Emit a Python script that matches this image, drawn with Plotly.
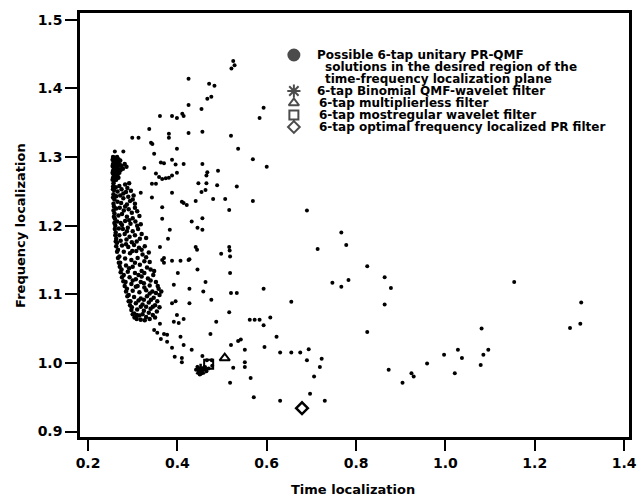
import plotly.graph_objects as go

# ---------------- data ----------------
x_ticks = [0.2, 0.4, 0.6, 0.8, 1.0, 1.2, 1.4]
y_ticks = [0.9, 1.0, 1.1, 1.2, 1.3, 1.4, 1.5]

# dense band of solutions near the left edge
cluster_pts = [
    (0.256, 1.300), (0.259, 1.299), (0.262, 1.297), (0.257, 1.295), (0.260, 1.293), (0.264, 1.294),
    (0.268, 1.292), (0.256, 1.290), (0.259, 1.288), (0.263, 1.289), (0.271, 1.289), (0.275, 1.287),
    (0.257, 1.285), (0.261, 1.283), (0.266, 1.284), (0.278, 1.283), (0.256, 1.280), (0.259, 1.278),
    (0.264, 1.279), (0.270, 1.277), (0.257, 1.275), (0.262, 1.272), (0.256, 1.270), (0.268, 1.270),
    (0.259, 1.266), (0.257, 1.262),
    (0.256, 1.257), (0.262, 1.256), (0.270, 1.258), (0.283, 1.260), (0.292, 1.262), (0.258, 1.252),
    (0.266, 1.250), (0.275, 1.253), (0.285, 1.249), (0.296, 1.251), (0.257, 1.246), (0.263, 1.243),
    (0.272, 1.244), (0.279, 1.240), (0.290, 1.242), (0.302, 1.244),
    (0.259, 1.238), (0.266, 1.235), (0.274, 1.233), (0.287, 1.231), (0.294, 1.236), (0.305, 1.232),
    (0.258, 1.228), (0.263, 1.225), (0.271, 1.226), (0.280, 1.222), (0.291, 1.224), (0.298, 1.219),
    (0.310, 1.221), (0.259, 1.218), (0.268, 1.215), (0.276, 1.217), (0.287, 1.213), (0.300, 1.211),
    (0.315, 1.214),
    (0.260, 1.210), (0.265, 1.206), (0.273, 1.204), (0.283, 1.207), (0.295, 1.203), (0.306, 1.206),
    (0.318, 1.202), (0.261, 1.200), (0.269, 1.196), (0.278, 1.195), (0.289, 1.197), (0.300, 1.192),
    (0.312, 1.195), (0.262, 1.190), (0.270, 1.186), (0.282, 1.188), (0.293, 1.184), (0.305, 1.186),
    (0.320, 1.188), (0.263, 1.181), (0.273, 1.178), (0.286, 1.180), (0.298, 1.176), (0.330, 1.182),
    (0.265, 1.175), (0.276, 1.171), (0.290, 1.169), (0.303, 1.172), (0.314, 1.168), (0.327, 1.170),
    (0.267, 1.165), (0.280, 1.162), (0.294, 1.160), (0.308, 1.163), (0.322, 1.158), (0.336, 1.161),
    (0.270, 1.155), (0.283, 1.152), (0.297, 1.150), (0.311, 1.153), (0.326, 1.148), (0.272, 1.146),
    (0.285, 1.142), (0.300, 1.140), (0.316, 1.143), (0.332, 1.139), (0.275, 1.136), (0.289, 1.133),
    (0.305, 1.131), (0.320, 1.134), (0.340, 1.136),
    (0.280, 1.128), (0.293, 1.125), (0.307, 1.122), (0.320, 1.126), (0.334, 1.123), (0.346, 1.128),
    (0.284, 1.118), (0.297, 1.115), (0.311, 1.112), (0.325, 1.116), (0.338, 1.113), (0.352, 1.118),
    (0.287, 1.108), (0.300, 1.105), (0.315, 1.103), (0.330, 1.106), (0.344, 1.104), (0.358, 1.108),
    (0.291, 1.099), (0.303, 1.096), (0.318, 1.094), (0.332, 1.097), (0.347, 1.095), (0.360, 1.099),
    (0.295, 1.090), (0.307, 1.087), (0.322, 1.085), (0.336, 1.088), (0.350, 1.084), (0.298, 1.081),
    (0.310, 1.078), (0.325, 1.076), (0.340, 1.079), (0.354, 1.075), (0.303, 1.072), (0.315, 1.069),
    (0.330, 1.067), (0.345, 1.070), (0.318, 1.063),
]

# extra solutions filling the dense band (left edge, top blob, interior)
cluster_fill_pts = [
    (0.255, 1.296), (0.255, 1.287), (0.255, 1.277), (0.255, 1.267), (0.256, 1.253), (0.256, 1.241),
    (0.257, 1.232), (0.257, 1.222), (0.258, 1.213), (0.259, 1.204), (0.260, 1.195), (0.261, 1.186),
    (0.262, 1.177), (0.263, 1.170), (0.265, 1.162), (0.267, 1.153), (0.269, 1.146), (0.271, 1.140),
    (0.273, 1.132), (0.276, 1.125), (0.279, 1.119), (0.282, 1.112), (0.285, 1.104), (0.288, 1.097),
    (0.291, 1.090), (0.294, 1.084), (0.297, 1.077), (0.300, 1.071), (0.304, 1.066), (0.309, 1.064),
    (0.265, 1.300), (0.268, 1.297), (0.272, 1.295), (0.262, 1.286), (0.267, 1.287), (0.269, 1.282),
    (0.273, 1.281), (0.266, 1.274), (0.263, 1.267), (0.282, 1.290), (0.286, 1.286),
    (0.288, 1.255), (0.279, 1.247), (0.300, 1.238), (0.283, 1.228), (0.305, 1.226), (0.292, 1.208),
    (0.276, 1.201), (0.310, 1.200), (0.287, 1.192), (0.316, 1.181), (0.309, 1.177), (0.285, 1.173),
    (0.320, 1.165), (0.299, 1.163), (0.330, 1.154), (0.305, 1.146), (0.338, 1.147), (0.292, 1.138),
    (0.326, 1.131), (0.313, 1.128), (0.348, 1.134), (0.300, 1.120), (0.340, 1.120), (0.318, 1.118),
    (0.356, 1.112), (0.326, 1.110), (0.307, 1.111), (0.338, 1.101), (0.352, 1.102), (0.364, 1.104),
    (0.325, 1.092), (0.341, 1.092), (0.355, 1.090), (0.313, 1.091), (0.330, 1.082), (0.345, 1.082),
    (0.360, 1.081), (0.318, 1.082), (0.336, 1.073), (0.350, 1.066), (0.322, 1.071), (0.309, 1.070),
    (0.327, 1.062), (0.338, 1.064),
]

# scattered solutions in the upper part of the plane
upper_pts = [
    (0.525, 1.440), (0.528, 1.434), (0.521, 1.429), (0.425, 1.414), (0.471, 1.407), (0.483, 1.404),
    (0.476, 1.388), (0.467, 1.385), (0.425, 1.376), (0.454, 1.370), (0.361, 1.360), (0.388, 1.360),
    (0.399, 1.357), (0.414, 1.360), (0.411, 1.363), (0.584, 1.357), (0.593, 1.372), (0.337, 1.341),
    (0.299, 1.328), (0.313, 1.328), (0.381, 1.334), (0.381, 1.328), (0.425, 1.335), (0.456, 1.337),
    (0.520, 1.331), (0.341, 1.321), (0.536, 1.312), (0.399, 1.312), (0.344, 1.319), (0.348, 1.305),
    (0.260, 1.308), (0.279, 1.308), (0.569, 1.297), (0.600, 1.286), (0.363, 1.292), (0.370, 1.291),
    (0.388, 1.296), (0.396, 1.289), (0.414, 1.290), (0.456, 1.290), (0.326, 1.284), (0.491, 1.280),
    (0.467, 1.278), (0.465, 1.273), (0.352, 1.276), (0.359, 1.271), (0.366, 1.268), (0.374, 1.269),
    (0.381, 1.270), (0.388, 1.273), (0.399, 1.277), (0.447, 1.262), (0.465, 1.262), (0.454, 1.249),
    (0.343, 1.261), (0.352, 1.261), (0.489, 1.259), (0.533, 1.257), (0.388, 1.248), (0.463, 1.252),
    (0.318, 1.248), (0.410, 1.235), (0.414, 1.233), (0.421, 1.230), (0.441, 1.236), (0.480, 1.239),
    (0.507, 1.239), (0.569, 1.236), (0.343, 1.241), (0.366, 1.227), (0.516, 1.223), (0.690, 1.222),
    (0.432, 1.206), (0.456, 1.211), (0.456, 1.194), (0.445, 1.197), (0.366, 1.210), (0.383, 1.194),
    (0.441, 1.169), (0.444, 1.165), (0.516, 1.169), (0.517, 1.164), (0.379, 1.181), (0.361, 1.169),
    (0.767, 1.190), (0.778, 1.172), (0.714, 1.166),
]

# scattered solutions in the middle / lower part
lower_pts = [
    (0.425, 1.150), (0.366, 1.150), (0.388, 1.149), (0.407, 1.149), (0.370, 1.153), (0.370, 1.146),
    (0.427, 1.151), (0.445, 1.136), (0.498, 1.159), (0.518, 1.155), (0.518, 1.131), (0.401, 1.131),
    (0.463, 1.118), (0.427, 1.108), (0.458, 1.104), (0.520, 1.102), (0.533, 1.102), (0.593, 1.108),
    (0.476, 1.092), (0.427, 1.087), (0.655, 1.089), (0.392, 1.114), (0.388, 1.087), (0.396, 1.090),
    (0.516, 1.074), (0.399, 1.070), (0.392, 1.060), (0.403, 1.058), (0.414, 1.064), (0.487, 1.060),
    (0.562, 1.063), (0.573, 1.063), (0.584, 1.063), (0.593, 1.055), (0.608, 1.066), (0.361, 1.057),
    (0.348, 1.048), (0.355, 1.044), (0.370, 1.042), (0.377, 1.041), (0.407, 1.038), (0.474, 1.042),
    (0.622, 1.038), (0.363, 1.035), (0.377, 1.031), (0.414, 1.026), (0.536, 1.032), (0.542, 1.034),
    (0.520, 1.026), (0.595, 1.023), (0.388, 1.022), (0.432, 1.019), (0.551, 1.019), (0.630, 1.015),
    (0.655, 1.015), (0.675, 1.015), (0.694, 1.020), (0.394, 1.009), (0.410, 1.007), (0.410, 1.001),
    (0.456, 1.010), (0.466, 1.004), (0.477, 1.004), (0.525, 0.993), (0.551, 1.001), (0.551, 0.994),
    (0.564, 0.978), (0.690, 1.004), (0.706, 0.980), (0.518, 0.971), (0.571, 0.950), (0.630, 0.945),
    (0.697, 0.955),
    (0.442, 0.990), (0.445, 0.994), (0.448, 0.987), (0.452, 0.992), (0.455, 0.985), (0.458, 0.990),
    (0.462, 0.994), (0.465, 0.988), (0.470, 0.992), (0.478, 0.996), (0.450, 0.983),
]

# scattered solutions on the right side
right_pts = [
    (0.825, 1.141), (0.747, 1.117), (0.767, 1.111), (0.783, 1.121), (0.864, 1.125), (0.878, 1.109),
    (0.864, 1.085), (0.825, 1.045), (1.154, 1.118), (0.719, 0.994), (0.723, 1.006), (0.730, 0.945),
    (0.873, 0.990), (0.904, 0.971), (0.924, 0.985), (0.929, 0.980), (0.959, 0.999), (0.997, 1.012),
    (1.021, 0.985), (1.028, 1.019), (1.037, 1.007), (1.081, 1.050), (1.079, 0.997), (1.085, 1.012),
    (1.096, 1.019), (1.279, 1.051), (1.302, 1.057), (1.304, 1.088),
]

# named filters
binomial_x, binomial_y = [0.452], [0.990]
multiplierless_x, multiplierless_y = [0.506], [1.007]
mostregular_x, mostregular_y = [0.470], [0.998]
optimal_x, optimal_y = [0.679], [0.934]

legend_texts = [
    "Possible 6-tap unitary PR-QMF",
    "solutions in the desired region of the",
    "time-frequency localization plane",
    "6-tap Binomial QMF-wavelet filter",
    "6-tap multiplierless filter",
    "6-tap mostregular wavelet filter",
    "6-tap optimal frequency localized PR filter",
]
legend_symbols = ["circle", None, None, "asterisk-open", "triangle-up-open", "square-open", "diamond-open"]

# ---------------- figure ----------------
W, H = 642, 496
L, R, T, B = 80, 5, 13, 59
PW, PH = W - L - R, H - T - B

def px(xp):
    return (xp - L) / PW

def py(yp):
    return (H - B - yp) / PH

dense = cluster_pts + cluster_fill_pts
sparse = upper_pts + lower_pts + right_pts

fig = go.Figure()
fig.add_trace(go.Scatter(x=[p[0] for p in dense], y=[p[1] for p in dense], mode="markers",
                         marker=dict(size=4.5, color="black", line=dict(width=0)),
                         showlegend=False, hoverinfo="skip"))
fig.add_trace(go.Scatter(x=[p[0] for p in sparse], y=[p[1] for p in sparse], mode="markers",
                         marker=dict(size=4, color="black", line=dict(width=0)),
                         showlegend=False, hoverinfo="skip"))
fig.add_trace(go.Scatter(x=mostregular_x, y=mostregular_y, mode="markers",
                         marker=dict(symbol="square-open", size=9, color="black", line=dict(width=2, color="black")),
                         showlegend=False))
fig.add_trace(go.Scatter(x=binomial_x, y=binomial_y, mode="markers",
                         marker=dict(symbol="asterisk-open", size=10, color="black", line=dict(width=2.5, color="black")),
                         showlegend=False))
fig.add_trace(go.Scatter(x=multiplierless_x, y=multiplierless_y, mode="markers",
                         marker=dict(symbol="triangle-up-open", size=9, color="black", line=dict(width=2, color="black")),
                         showlegend=False))
fig.add_trace(go.Scatter(x=optimal_x, y=optimal_y, mode="markers",
                         marker=dict(symbol="diamond-open", size=9, color="black", line=dict(width=2.5, color="black")),
                         showlegend=False))

# legend key symbols on an overlay axis measured in page pixels
row_y0, row_dy = 55, 12
key_y = [row_y0 + i * row_dy for i, s in enumerate(legend_symbols) if s]
key_sym = [s for s in legend_symbols if s]
fig.add_trace(go.Scatter(x=[297] * len(key_y), y=key_y, mode="markers", xaxis="x2", yaxis="y2",
                         marker=dict(symbol=key_sym, size=[11, 11, 9, 9, 9], color="black",
                                     line=dict(width=2, color="black")),
                         showlegend=False, hoverinfo="skip"))

font_main = "DejaVu Sans"
anns = []
for i, txt in enumerate(legend_texts):
    yy = row_y0 + i * row_dy
    indent = 318 if i in (0, 3) else (327 if i in (1, 2) else 320)
    anns.append(dict(x=px(indent), y=py(yy), xref="paper", yref="paper", text=txt,
                     showarrow=False, xanchor="left", yanchor="middle",
                     font=dict(family=font_main, size=12, color="black", weight="bold")))

anns.append(dict(x=px(357), y=py(489), xref="paper", yref="paper", text="Time localization",
                 showarrow=False, xanchor="center", yanchor="middle",
                 font=dict(family=font_main, size=13, color="black", weight="bold")))
anns.append(dict(x=px(19), y=py(225), xref="paper", yref="paper", text="Frequency localization",
                 showarrow=False, xanchor="center", yanchor="middle", textangle=-90,
                 font=dict(family=font_main, size=13, color="black", weight="bold")))

axis_common = dict(showline=True, linecolor="black", linewidth=2.5, mirror=True,
                   ticks="outside", tickcolor="black", tickwidth=2, showgrid=False,
                   zeroline=False,
                   tickfont=dict(family=font_main, size=14, color="black", weight="bold"))

fig.update_layout(
    width=W, height=H,
    margin=dict(l=L, r=R, t=T, b=B),
    paper_bgcolor="white", plot_bgcolor="white",
    showlegend=False,
    xaxis=dict(range=[0.182, 1.411], tickvals=x_ticks, ticktext=[f"{v:.1f}" for v in x_ticks],
               ticklen=11, **axis_common),
    yaxis=dict(range=[0.892, 1.510], tickvals=y_ticks, ticktext=[f"{v:.1f}" for v in y_ticks],
               ticklen=12, **axis_common),
    xaxis2=dict(overlaying="x", range=[L, W - R], visible=False, fixedrange=True),
    yaxis2=dict(overlaying="y", range=[H - B, T], visible=False, fixedrange=True),
    annotations=anns,
)

fig.write_html("out.html")
